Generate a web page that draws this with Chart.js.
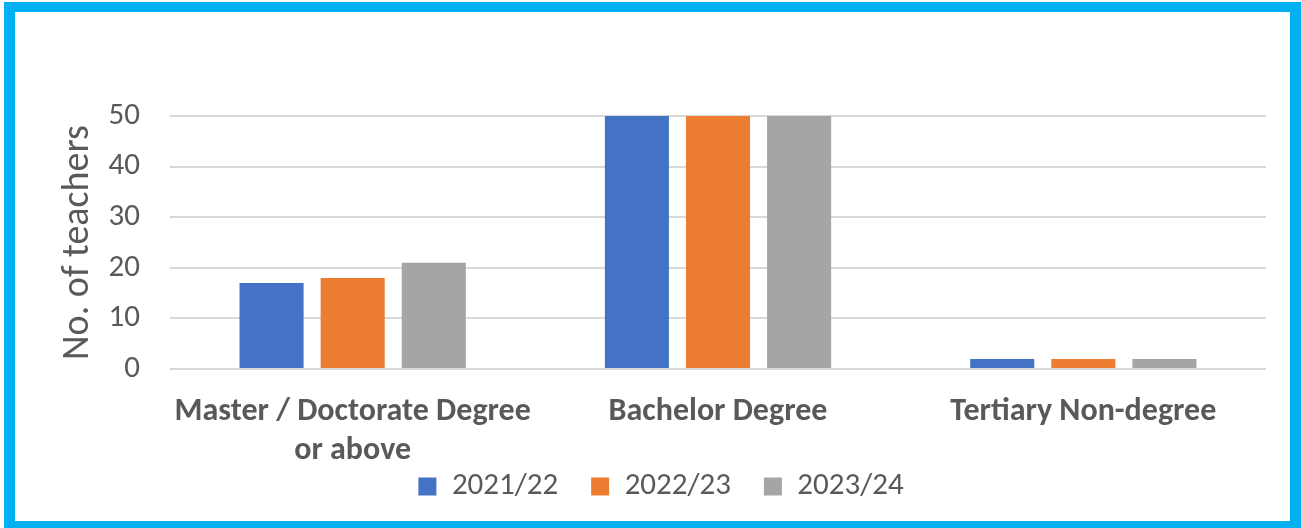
<!DOCTYPE html>
<html>
<head>
<meta charset="utf-8">
<script src="https://cdn.jsdelivr.net/npm/chart.js@4.4.1/dist/chart.umd.min.js"></script>
<style>
  html, body { margin: 0; padding: 0; background: #fff; overflow: hidden; }
  #wrap { position: absolute; left: 0; top: 0; width: 1301px; height: 528px; }
  #frame {
    position: absolute; left: 4px; top: 2px; width: 1297px; height: 530px;
    box-sizing: border-box; border: 11px solid #00B0F0; border-top-width: 10px;
    pointer-events: none;
  }
</style>
</head>
<body>
<div id="wrap"><canvas id="chart" width="1301" height="528"></canvas></div>
<div id="frame"></div>
<script>
// categories and values
const categories = [['Master / Doctorate Degree', 'or above'], 'Bachelor Degree', 'Tertiary Non-degree']
const years = ['2021/22', '2022/23', '2023/24']
const y2021 = [17, 50, 2]
const y2022 = [18, 50, 2]
const y2023 = [21, 50, 2]
const colors = ['#4472C4', '#ED7D31', '#A5A5A5']

const txt = '#595959'
const font = 'Carlito, Lato, "Open Sans", sans-serif'

new Chart(document.getElementById('chart'), {
  type: 'bar',
  data: {
    labels: categories,
    datasets: [y2021, y2022, y2023].map((d, i) => ({
      label: years[i],
      data: d,
      backgroundColor: colors[i],
      borderWidth: 0,
      categoryPercentage: 0.666,
      barPercentage: 0.79
    }))
  },
  options: {
    responsive: false,
    animation: false,
    layout: { padding: { left: 56, right: 35, top: 116, bottom: 16 } },
    plugins: {
      title: { display: false },
      tooltip: { enabled: false },
      legend: {
        position: 'bottom',
        labels: {
          color: txt,
          font: { family: font, size: 31 },
          boxWidth: 18, boxHeight: 18,
          padding: 33
        }
      }
    },
    scales: {
      x: {
        grid: { display: false, drawTicks: false },
        border: { display: false },
        ticks: { color: txt, font: { family: font, size: 32, weight: 'bold' }, padding: 24, maxRotation: 0 },
        afterFit(s) {
          // legend sits close under the labels, so keep the box short and don't clip the second line
          s.height = 69
          s._computeLabelArea = () => undefined
        }
      },
      y: {
        min: 0, max: 50,
        ticks: { stepSize: 10, color: txt, font: { family: font, size: 31 }, padding: 30 },
        grid: { color: '#D9D9D9', lineWidth: 2, drawTicks: false },
        border: { display: false },
        title: { display: true, text: 'No. of teachers', color: txt, font: { family: font, size: 38 }, padding: 0 },
        afterFit(s) { s.width = 114 }
      }
    }
  }
})
</script>
</body>
</html>
